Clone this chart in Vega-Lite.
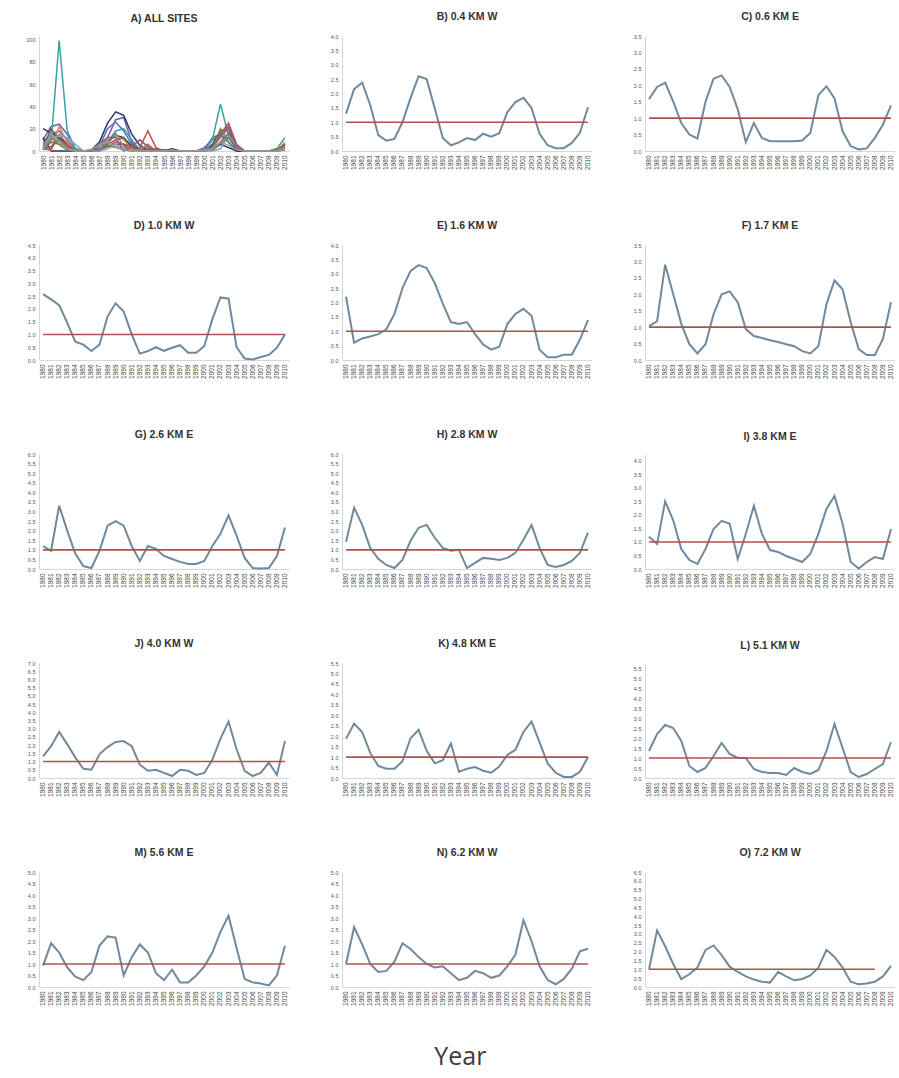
{
"$schema": "https://vega.github.io/schema/vega-lite/v6.json",
"background": "white",
"padding": {"left": 25, "top": 11, "right": 0, "bottom": 2},
"title": {"text": "Year", "orient": "bottom", "anchor": "middle", "fontSize": 25, "font": "Open Sans", "fontWeight": "normal", "color": "#3c3c3c", "offset": 40},
"datasets": {
"d": [
{"s":"B","t":1980,"v":1.3,"n":10},{"s":"B","t":1981,"v":2.15,"n":22},{"s":"B","t":1982,"v":2.38,"n":24},{"s":"B","t":1983,"v":1.6,"n":15},{"s":"B","t":1984,"v":0.55,"n":2},{"s":"B","t":1985,"v":0.36,"n":0},{"s":"B","t":1986,"v":0.42,"n":0},{"s":"B","t":1987,"v":1.0,"n":1},{"s":"B","t":1988,"v":1.85,"n":12},{"s":"B","t":1989,"v":2.6,"n":28},{"s":"B","t":1990,"v":2.5,"n":30},{"s":"B","t":1991,"v":1.49,"n":8},{"s":"B","t":1992,"v":0.45,"n":0},{"s":"B","t":1993,"v":0.2,"n":0},{"s":"B","t":1994,"v":0.3,"n":0},{"s":"B","t":1995,"v":0.45,"n":0},{"s":"B","t":1996,"v":0.38,"n":0},{"s":"B","t":1997,"v":0.6,"n":0},{"s":"B","t":1998,"v":0.5,"n":0},{"s":"B","t":1999,"v":0.62,"n":0},{"s":"B","t":2000,"v":1.35,"n":3},{"s":"B","t":2001,"v":1.7,"n":10},{"s":"B","t":2002,"v":1.85,"n":14},{"s":"B","t":2003,"v":1.5,"n":8},{"s":"B","t":2004,"v":0.6,"n":0},{"s":"B","t":2005,"v":0.2,"n":0},{"s":"B","t":2006,"v":0.1,"n":0},{"s":"B","t":2007,"v":0.1,"n":0},{"s":"B","t":2008,"v":0.28,"n":0},{"s":"B","t":2009,"v":0.63,"n":1},{"s":"B","t":2010,"v":1.52,"n":6},
{"s":"C","t":1980,"v":1.58,"n":8},{"s":"C","t":1981,"v":1.95,"n":15},{"s":"C","t":1982,"v":2.08,"n":18},{"s":"C","t":1983,"v":1.5,"n":10},{"s":"C","t":1984,"v":0.85,"n":1},{"s":"C","t":1985,"v":0.5,"n":0},{"s":"C","t":1986,"v":0.38,"n":0},{"s":"C","t":1987,"v":1.5,"n":4},{"s":"C","t":1988,"v":2.2,"n":20},{"s":"C","t":1989,"v":2.3,"n":26},{"s":"C","t":1990,"v":1.95,"n":18},{"s":"C","t":1991,"v":1.27,"n":6},{"s":"C","t":1992,"v":0.27,"n":0},{"s":"C","t":1993,"v":0.85,"n":3},{"s":"C","t":1994,"v":0.4,"n":0},{"s":"C","t":1995,"v":0.3,"n":0},{"s":"C","t":1996,"v":0.3,"n":0},{"s":"C","t":1997,"v":0.3,"n":0},{"s":"C","t":1998,"v":0.3,"n":0},{"s":"C","t":1999,"v":0.32,"n":0},{"s":"C","t":2000,"v":0.55,"n":1},{"s":"C","t":2001,"v":1.7,"n":12},{"s":"C","t":2002,"v":1.97,"n":15},{"s":"C","t":2003,"v":1.6,"n":8},{"s":"C","t":2004,"v":0.6,"n":0},{"s":"C","t":2005,"v":0.15,"n":0},{"s":"C","t":2006,"v":0.05,"n":0},{"s":"C","t":2007,"v":0.08,"n":0},{"s":"C","t":2008,"v":0.4,"n":0},{"s":"C","t":2009,"v":0.8,"n":1},{"s":"C","t":2010,"v":1.39,"n":4},
{"s":"D","t":1980,"v":2.58,"n":20},{"s":"D","t":1981,"v":2.37,"n":16},{"s":"D","t":1982,"v":2.15,"n":12},{"s":"D","t":1983,"v":1.45,"n":6},{"s":"D","t":1984,"v":0.72,"n":0},{"s":"D","t":1985,"v":0.6,"n":0},{"s":"D","t":1986,"v":0.35,"n":0},{"s":"D","t":1987,"v":0.6,"n":0},{"s":"D","t":1988,"v":1.7,"n":8},{"s":"D","t":1989,"v":2.22,"n":14},{"s":"D","t":1990,"v":1.9,"n":12},{"s":"D","t":1991,"v":1.0,"n":3},{"s":"D","t":1992,"v":0.25,"n":0},{"s":"D","t":1993,"v":0.35,"n":0},{"s":"D","t":1994,"v":0.5,"n":0},{"s":"D","t":1995,"v":0.36,"n":0},{"s":"D","t":1996,"v":0.48,"n":2},{"s":"D","t":1997,"v":0.58,"n":0},{"s":"D","t":1998,"v":0.28,"n":0},{"s":"D","t":1999,"v":0.28,"n":0},{"s":"D","t":2000,"v":0.55,"n":0},{"s":"D","t":2001,"v":1.6,"n":6},{"s":"D","t":2002,"v":2.45,"n":18},{"s":"D","t":2003,"v":2.4,"n":20},{"s":"D","t":2004,"v":0.5,"n":0},{"s":"D","t":2005,"v":0.06,"n":0},{"s":"D","t":2006,"v":0.02,"n":0},{"s":"D","t":2007,"v":0.12,"n":0},{"s":"D","t":2008,"v":0.2,"n":0},{"s":"D","t":2009,"v":0.48,"n":0},{"s":"D","t":2010,"v":1.0,"n":2},
{"s":"E","t":1980,"v":2.2,"n":12},{"s":"E","t":1981,"v":0.6,"n":0},{"s":"E","t":1982,"v":0.75,"n":0},{"s":"E","t":1983,"v":0.82,"n":0},{"s":"E","t":1984,"v":0.9,"n":0},{"s":"E","t":1985,"v":1.07,"n":0},{"s":"E","t":1986,"v":1.6,"n":1},{"s":"E","t":1987,"v":2.5,"n":8},{"s":"E","t":1988,"v":3.1,"n":25},{"s":"E","t":1989,"v":3.3,"n":35},{"s":"E","t":1990,"v":3.2,"n":32},{"s":"E","t":1991,"v":2.68,"n":15},{"s":"E","t":1992,"v":1.96,"n":5},{"s":"E","t":1993,"v":1.32,"n":1},{"s":"E","t":1994,"v":1.25,"n":1},{"s":"E","t":1995,"v":1.32,"n":1},{"s":"E","t":1996,"v":0.9,"n":0},{"s":"E","t":1997,"v":0.54,"n":0},{"s":"E","t":1998,"v":0.36,"n":0},{"s":"E","t":1999,"v":0.46,"n":0},{"s":"E","t":2000,"v":1.25,"n":1},{"s":"E","t":2001,"v":1.6,"n":4},{"s":"E","t":2002,"v":1.78,"n":6},{"s":"E","t":2003,"v":1.54,"n":3},{"s":"E","t":2004,"v":0.36,"n":0},{"s":"E","t":2005,"v":0.1,"n":0},{"s":"E","t":2006,"v":0.1,"n":0},{"s":"E","t":2007,"v":0.18,"n":0},{"s":"E","t":2008,"v":0.18,"n":0},{"s":"E","t":2009,"v":0.71,"n":0},{"s":"E","t":2010,"v":1.39,"n":3},
{"s":"F","t":1980,"v":1.03,"n":4},{"s":"F","t":1981,"v":1.18,"n":8},{"s":"F","t":1982,"v":2.9,"n":99},{"s":"F","t":1983,"v":2.0,"n":18},{"s":"F","t":1984,"v":1.1,"n":2},{"s":"F","t":1985,"v":0.48,"n":0},{"s":"F","t":1986,"v":0.2,"n":0},{"s":"F","t":1987,"v":0.48,"n":1},{"s":"F","t":1988,"v":1.39,"n":8},{"s":"F","t":1989,"v":2.0,"n":18},{"s":"F","t":1990,"v":2.09,"n":20},{"s":"F","t":1991,"v":1.76,"n":10},{"s":"F","t":1992,"v":0.94,"n":1},{"s":"F","t":1993,"v":0.73,"n":0},{"s":"F","t":1994,"v":0.67,"n":0},{"s":"F","t":1995,"v":0.6,"n":0},{"s":"F","t":1996,"v":0.55,"n":0},{"s":"F","t":1997,"v":0.48,"n":0},{"s":"F","t":1998,"v":0.42,"n":0},{"s":"F","t":1999,"v":0.27,"n":0},{"s":"F","t":2000,"v":0.2,"n":0},{"s":"F","t":2001,"v":0.42,"n":10},{"s":"F","t":2002,"v":1.7,"n":42},{"s":"F","t":2003,"v":2.42,"n":14},{"s":"F","t":2004,"v":2.15,"n":1},{"s":"F","t":2005,"v":1.15,"n":0},{"s":"F","t":2006,"v":0.33,"n":0},{"s":"F","t":2007,"v":0.15,"n":0},{"s":"F","t":2008,"v":0.15,"n":0},{"s":"F","t":2009,"v":0.64,"n":2},{"s":"F","t":2010,"v":1.76,"n":12},
{"s":"G","t":1980,"v":1.2,"n":2},{"s":"G","t":1981,"v":0.95,"n":1},{"s":"G","t":1982,"v":3.3,"n":22},{"s":"G","t":1983,"v":2.0,"n":8},{"s":"G","t":1984,"v":0.8,"n":0},{"s":"G","t":1985,"v":0.15,"n":0},{"s":"G","t":1986,"v":0.05,"n":0},{"s":"G","t":1987,"v":0.95,"n":1},{"s":"G","t":1988,"v":2.26,"n":10},{"s":"G","t":1989,"v":2.5,"n":14},{"s":"G","t":1990,"v":2.26,"n":10},{"s":"G","t":1991,"v":1.2,"n":2},{"s":"G","t":1992,"v":0.42,"n":0},{"s":"G","t":1993,"v":1.2,"n":2},{"s":"G","t":1994,"v":1.05,"n":1},{"s":"G","t":1995,"v":0.68,"n":0},{"s":"G","t":1996,"v":0.52,"n":0},{"s":"G","t":1997,"v":0.37,"n":0},{"s":"G","t":1998,"v":0.26,"n":0},{"s":"G","t":1999,"v":0.26,"n":0},{"s":"G","t":2000,"v":0.42,"n":0},{"s":"G","t":2001,"v":1.2,"n":2},{"s":"G","t":2002,"v":1.84,"n":8},{"s":"G","t":2003,"v":2.8,"n":15},{"s":"G","t":2004,"v":1.74,"n":3},{"s":"G","t":2005,"v":0.58,"n":0},{"s":"G","t":2006,"v":0.05,"n":0},{"s":"G","t":2007,"v":0.02,"n":0},{"s":"G","t":2008,"v":0.05,"n":0},{"s":"G","t":2009,"v":0.68,"n":0},{"s":"G","t":2010,"v":2.16,"n":8},
{"s":"H","t":1980,"v":1.42,"n":3},{"s":"H","t":1981,"v":3.2,"n":20},{"s":"H","t":1982,"v":2.3,"n":10},{"s":"H","t":1983,"v":1.1,"n":2},{"s":"H","t":1984,"v":0.53,"n":0},{"s":"H","t":1985,"v":0.21,"n":0},{"s":"H","t":1986,"v":0.05,"n":0},{"s":"H","t":1987,"v":0.47,"n":1},{"s":"H","t":1988,"v":1.47,"n":6},{"s":"H","t":1989,"v":2.15,"n":10},{"s":"H","t":1990,"v":2.3,"n":12},{"s":"H","t":1991,"v":1.63,"n":5},{"s":"H","t":1992,"v":1.1,"n":2},{"s":"H","t":1993,"v":0.95,"n":1},{"s":"H","t":1994,"v":1.0,"n":2},{"s":"H","t":1995,"v":0.05,"n":0},{"s":"H","t":1996,"v":0.32,"n":0},{"s":"H","t":1997,"v":0.58,"n":0},{"s":"H","t":1998,"v":0.53,"n":0},{"s":"H","t":1999,"v":0.47,"n":0},{"s":"H","t":2000,"v":0.58,"n":0},{"s":"H","t":2001,"v":0.84,"n":1},{"s":"H","t":2002,"v":1.53,"n":6},{"s":"H","t":2003,"v":2.3,"n":12},{"s":"H","t":2004,"v":1.1,"n":2},{"s":"H","t":2005,"v":0.21,"n":0},{"s":"H","t":2006,"v":0.1,"n":0},{"s":"H","t":2007,"v":0.21,"n":0},{"s":"H","t":2008,"v":0.42,"n":0},{"s":"H","t":2009,"v":0.84,"n":1},{"s":"H","t":2010,"v":1.9,"n":5},
{"s":"I","t":1980,"v":1.19,"n":2},{"s":"I","t":1981,"v":0.93,"n":1},{"s":"I","t":1982,"v":2.5,"n":15},{"s":"I","t":1983,"v":1.8,"n":6},{"s":"I","t":1984,"v":0.74,"n":0},{"s":"I","t":1985,"v":0.33,"n":0},{"s":"I","t":1986,"v":0.19,"n":0},{"s":"I","t":1987,"v":0.74,"n":1},{"s":"I","t":1988,"v":1.48,"n":4},{"s":"I","t":1989,"v":1.78,"n":8},{"s":"I","t":1990,"v":1.67,"n":6},{"s":"I","t":1991,"v":0.37,"n":0},{"s":"I","t":1992,"v":1.3,"n":3},{"s":"I","t":1993,"v":2.33,"n":18},{"s":"I","t":1994,"v":1.3,"n":3},{"s":"I","t":1995,"v":0.7,"n":0},{"s":"I","t":1996,"v":0.63,"n":0},{"s":"I","t":1997,"v":0.48,"n":0},{"s":"I","t":1998,"v":0.37,"n":0},{"s":"I","t":1999,"v":0.26,"n":0},{"s":"I","t":2000,"v":0.56,"n":0},{"s":"I","t":2001,"v":1.3,"n":3},{"s":"I","t":2002,"v":2.22,"n":15},{"s":"I","t":2003,"v":2.7,"n":25},{"s":"I","t":2004,"v":1.67,"n":6},{"s":"I","t":2005,"v":0.26,"n":0},{"s":"I","t":2006,"v":0.02,"n":0},{"s":"I","t":2007,"v":0.26,"n":0},{"s":"I","t":2008,"v":0.44,"n":0},{"s":"I","t":2009,"v":0.37,"n":0},{"s":"I","t":2010,"v":1.48,"n":3},
{"s":"J","t":1980,"v":1.31,"n":2},{"s":"J","t":1981,"v":1.94,"n":4},{"s":"J","t":1982,"v":2.8,"n":10},{"s":"J","t":1983,"v":2.06,"n":4},{"s":"J","t":1984,"v":1.25,"n":0},{"s":"J","t":1985,"v":0.56,"n":0},{"s":"J","t":1986,"v":0.5,"n":0},{"s":"J","t":1987,"v":1.44,"n":2},{"s":"J","t":1988,"v":1.88,"n":4},{"s":"J","t":1989,"v":2.19,"n":6},{"s":"J","t":1990,"v":2.25,"n":6},{"s":"J","t":1991,"v":1.94,"n":4},{"s":"J","t":1992,"v":0.81,"n":0},{"s":"J","t":1993,"v":0.44,"n":0},{"s":"J","t":1994,"v":0.5,"n":0},{"s":"J","t":1995,"v":0.31,"n":0},{"s":"J","t":1996,"v":0.12,"n":0},{"s":"J","t":1997,"v":0.5,"n":0},{"s":"J","t":1998,"v":0.44,"n":0},{"s":"J","t":1999,"v":0.19,"n":0},{"s":"J","t":2000,"v":0.31,"n":0},{"s":"J","t":2001,"v":1.12,"n":2},{"s":"J","t":2002,"v":2.38,"n":8},{"s":"J","t":2003,"v":3.44,"n":16},{"s":"J","t":2004,"v":1.75,"n":4},{"s":"J","t":2005,"v":0.44,"n":0},{"s":"J","t":2006,"v":0.12,"n":0},{"s":"J","t":2007,"v":0.31,"n":0},{"s":"J","t":2008,"v":0.94,"n":0},{"s":"J","t":2009,"v":0.19,"n":0},{"s":"J","t":2010,"v":2.25,"n":6},
{"s":"K","t":1980,"v":1.87,"n":6},{"s":"K","t":1981,"v":2.6,"n":14},{"s":"K","t":1982,"v":2.2,"n":10},{"s":"K","t":1983,"v":1.2,"n":3},{"s":"K","t":1984,"v":0.58,"n":0},{"s":"K","t":1985,"v":0.44,"n":0},{"s":"K","t":1986,"v":0.44,"n":0},{"s":"K","t":1987,"v":0.8,"n":0},{"s":"K","t":1988,"v":1.9,"n":8},{"s":"K","t":1989,"v":2.3,"n":16},{"s":"K","t":1990,"v":1.3,"n":4},{"s":"K","t":1991,"v":0.7,"n":1},{"s":"K","t":1992,"v":0.85,"n":1},{"s":"K","t":1993,"v":1.65,"n":6},{"s":"K","t":1994,"v":0.3,"n":0},{"s":"K","t":1995,"v":0.44,"n":0},{"s":"K","t":1996,"v":0.52,"n":0},{"s":"K","t":1997,"v":0.35,"n":0},{"s":"K","t":1998,"v":0.25,"n":0},{"s":"K","t":1999,"v":0.55,"n":0},{"s":"K","t":2000,"v":1.1,"n":1},{"s":"K","t":2001,"v":1.35,"n":3},{"s":"K","t":2002,"v":2.2,"n":12},{"s":"K","t":2003,"v":2.7,"n":20},{"s":"K","t":2004,"v":1.7,"n":5},{"s":"K","t":2005,"v":0.7,"n":0},{"s":"K","t":2006,"v":0.25,"n":0},{"s":"K","t":2007,"v":0.05,"n":0},{"s":"K","t":2008,"v":0.05,"n":0},{"s":"K","t":2009,"v":0.3,"n":0},{"s":"K","t":2010,"v":1.0,"n":1},
{"s":"L","t":1980,"v":1.35,"n":3},{"s":"L","t":1981,"v":2.2,"n":10},{"s":"L","t":1982,"v":2.65,"n":14},{"s":"L","t":1983,"v":2.5,"n":12},{"s":"L","t":1984,"v":1.85,"n":6},{"s":"L","t":1985,"v":0.6,"n":0},{"s":"L","t":1986,"v":0.3,"n":0},{"s":"L","t":1987,"v":0.5,"n":0},{"s":"L","t":1988,"v":1.1,"n":2},{"s":"L","t":1989,"v":1.75,"n":6},{"s":"L","t":1990,"v":1.2,"n":2},{"s":"L","t":1991,"v":1.0,"n":1},{"s":"L","t":1992,"v":1.0,"n":1},{"s":"L","t":1993,"v":0.45,"n":0},{"s":"L","t":1994,"v":0.3,"n":0},{"s":"L","t":1995,"v":0.25,"n":0},{"s":"L","t":1996,"v":0.25,"n":0},{"s":"L","t":1997,"v":0.15,"n":0},{"s":"L","t":1998,"v":0.5,"n":0},{"s":"L","t":1999,"v":0.3,"n":0},{"s":"L","t":2000,"v":0.2,"n":0},{"s":"L","t":2001,"v":0.4,"n":0},{"s":"L","t":2002,"v":1.35,"n":2},{"s":"L","t":2003,"v":2.7,"n":14},{"s":"L","t":2004,"v":1.5,"n":4},{"s":"L","t":2005,"v":0.3,"n":0},{"s":"L","t":2006,"v":0.05,"n":0},{"s":"L","t":2007,"v":0.2,"n":0},{"s":"L","t":2008,"v":0.45,"n":0},{"s":"L","t":2009,"v":0.7,"n":0},{"s":"L","t":2010,"v":1.8,"n":5},
{"s":"M","t":1980,"v":0.93,"n":1},{"s":"M","t":1981,"v":1.9,"n":8},{"s":"M","t":1982,"v":1.5,"n":6},{"s":"M","t":1983,"v":0.85,"n":1},{"s":"M","t":1984,"v":0.45,"n":0},{"s":"M","t":1985,"v":0.3,"n":0},{"s":"M","t":1986,"v":0.65,"n":0},{"s":"M","t":1987,"v":1.8,"n":6},{"s":"M","t":1988,"v":2.2,"n":12},{"s":"M","t":1989,"v":2.15,"n":12},{"s":"M","t":1990,"v":0.5,"n":0},{"s":"M","t":1991,"v":1.3,"n":4},{"s":"M","t":1992,"v":1.85,"n":10},{"s":"M","t":1993,"v":1.5,"n":4},{"s":"M","t":1994,"v":0.6,"n":0},{"s":"M","t":1995,"v":0.3,"n":0},{"s":"M","t":1996,"v":0.75,"n":0},{"s":"M","t":1997,"v":0.2,"n":0},{"s":"M","t":1998,"v":0.2,"n":0},{"s":"M","t":1999,"v":0.5,"n":0},{"s":"M","t":2000,"v":0.9,"n":1},{"s":"M","t":2001,"v":1.5,"n":4},{"s":"M","t":2002,"v":2.4,"n":14},{"s":"M","t":2003,"v":3.1,"n":22},{"s":"M","t":2004,"v":1.7,"n":5},{"s":"M","t":2005,"v":0.35,"n":0},{"s":"M","t":2006,"v":0.2,"n":0},{"s":"M","t":2007,"v":0.15,"n":0},{"s":"M","t":2008,"v":0.07,"n":0},{"s":"M","t":2009,"v":0.5,"n":1},{"s":"M","t":2010,"v":1.79,"n":6},
{"s":"N","t":1980,"v":1.0,"n":1},{"s":"N","t":1981,"v":2.6,"n":12},{"s":"N","t":1982,"v":1.85,"n":6},{"s":"N","t":1983,"v":1.0,"n":1},{"s":"N","t":1984,"v":0.65,"n":0},{"s":"N","t":1985,"v":0.7,"n":0},{"s":"N","t":1986,"v":1.1,"n":1},{"s":"N","t":1987,"v":1.9,"n":6},{"s":"N","t":1988,"v":1.65,"n":5},{"s":"N","t":1989,"v":1.3,"n":3},{"s":"N","t":1990,"v":1.0,"n":1},{"s":"N","t":1991,"v":0.85,"n":0},{"s":"N","t":1992,"v":0.9,"n":1},{"s":"N","t":1993,"v":0.6,"n":0},{"s":"N","t":1994,"v":0.3,"n":0},{"s":"N","t":1995,"v":0.4,"n":0},{"s":"N","t":1996,"v":0.7,"n":0},{"s":"N","t":1997,"v":0.6,"n":0},{"s":"N","t":1998,"v":0.4,"n":0},{"s":"N","t":1999,"v":0.5,"n":0},{"s":"N","t":2000,"v":0.9,"n":1},{"s":"N","t":2001,"v":1.4,"n":2},{"s":"N","t":2002,"v":2.9,"n":20},{"s":"N","t":2003,"v":2.0,"n":8},{"s":"N","t":2004,"v":0.9,"n":1},{"s":"N","t":2005,"v":0.3,"n":0},{"s":"N","t":2006,"v":0.12,"n":0},{"s":"N","t":2007,"v":0.35,"n":0},{"s":"N","t":2008,"v":0.8,"n":0},{"s":"N","t":2009,"v":1.55,"n":2},{"s":"N","t":2010,"v":1.66,"n":3},
{"s":"O","t":1980,"v":1.0,"n":1},{"s":"O","t":1981,"v":3.2,"n":16},{"s":"O","t":1982,"v":2.3,"n":8},{"s":"O","t":1983,"v":1.3,"n":2},{"s":"O","t":1984,"v":0.45,"n":0},{"s":"O","t":1985,"v":0.72,"n":0},{"s":"O","t":1986,"v":1.1,"n":1},{"s":"O","t":1987,"v":2.1,"n":6},{"s":"O","t":1988,"v":2.35,"n":8},{"s":"O","t":1989,"v":1.8,"n":4},{"s":"O","t":1990,"v":1.15,"n":1},{"s":"O","t":1991,"v":0.85,"n":0},{"s":"O","t":1992,"v":0.6,"n":0},{"s":"O","t":1993,"v":0.42,"n":0},{"s":"O","t":1994,"v":0.3,"n":0},{"s":"O","t":1995,"v":0.25,"n":0},{"s":"O","t":1996,"v":0.85,"n":1},{"s":"O","t":1997,"v":0.6,"n":0},{"s":"O","t":1998,"v":0.38,"n":0},{"s":"O","t":1999,"v":0.45,"n":0},{"s":"O","t":2000,"v":0.65,"n":1},{"s":"O","t":2001,"v":1.09,"n":2},{"s":"O","t":2002,"v":2.1,"n":8},{"s":"O","t":2003,"v":1.7,"n":5},{"s":"O","t":2004,"v":1.1,"n":1},{"s":"O","t":2005,"v":0.3,"n":0},{"s":"O","t":2006,"v":0.15,"n":0},{"s":"O","t":2007,"v":0.2,"n":0},{"s":"O","t":2008,"v":0.3,"n":0},{"s":"O","t":2009,"v":0.6,"n":0},{"s":"O","t":2010,"v":1.19,"n":2}
],
"m": [
{"s":"B","a":1980,"b":2010,"m":1},{"s":"C","a":1980,"b":2010,"m":1},{"s":"D","a":1980,"b":2010,"m":1},{"s":"E","a":1980,"b":2010,"m":1},{"s":"F","a":1980,"b":2010,"m":1},{"s":"G","a":1980,"b":2010,"m":1},{"s":"H","a":1980,"b":2010,"m":1},{"s":"I","a":1980,"b":2010,"m":1},{"s":"J","a":1980,"b":2010,"m":1},{"s":"K","a":1980,"b":2010,"m":1},{"s":"L","a":1980,"b":2010,"m":1},{"s":"M","a":1980,"b":2010,"m":1},{"s":"N","a":1980,"b":2010,"m":1},{"s":"O","a":1980,"b":2008,"m":1}
]
},
"columns": 3,
"spacing": {"row": 50, "column": 41},
"concat": [
{"title": "A) ALL SITES", "width": 250, "height": 115, "data": {"name": "d"},
 "mark": {"type": "line", "strokeWidth": 1.5},
 "encoding": {
  "x": {"field": "t", "type": "ordinal", "title": null},
  "y": {"field": "n", "type": "quantitative", "title": null, "scale": {"domain": [0, 103], "nice": false}, "axis": {"values": [0, 20, 40, 60, 80, 100]}},
  "color": {"field": "s", "type": "nominal", "legend": null, "scale": {"domain": ["B","C","D","E","F","G","H","I","J","K","L","M","N","O"], "range": ["#7b5ea7","#4f73b5","#333333","#26336e","#3aa0a8","#e0894a","#606060","#c0504d","#8c5b4a","#7f7f7f","#79a3cf","#a34f7e","#6f8f3f","#9a9a9a"]}}
 }},
{"title": "B) 0.4 KM W", "width": 250, "height": 115, "layer": [
 {"data": {"name": "d"}, "transform": [{"filter": "datum.s === 'B'"}], "mark": {"type": "line", "color": "#71899c", "strokeWidth": 2},
  "encoding": {"x": {"field": "t", "type": "ordinal", "title": null}, "y": {"field": "v", "type": "quantitative", "title": null, "scale": {"domain": [0, 4], "nice": false}, "axis": {"values": [0,0.5,1,1.5,2,2.5,3,3.5,4], "labelOverlap": false}}}},
 {"data": {"name": "m"}, "transform": [{"filter": "datum.s === 'B'"}], "mark": {"type": "rule", "color": "#b0504d", "strokeWidth": 1.6},
  "encoding": {"x": {"field": "a", "type": "ordinal", "title": null}, "x2": {"field": "b"}, "y": {"field": "m", "type": "quantitative", "title": null, "scale": {"domain": [0, 4], "nice": false}, "axis": {"values": [0,0.5,1,1.5,2,2.5,3,3.5,4], "labelOverlap": false}}}}]},
{"title": "C) 0.6 KM E", "width": 250, "height": 115, "layer": [
 {"data": {"name": "d"}, "transform": [{"filter": "datum.s === 'C'"}], "mark": {"type": "line", "color": "#71899c", "strokeWidth": 2},
  "encoding": {"x": {"field": "t", "type": "ordinal", "title": null}, "y": {"field": "v", "type": "quantitative", "title": null, "scale": {"domain": [0, 3.5], "nice": false}, "axis": {"values": [0,0.5,1,1.5,2,2.5,3,3.5], "labelOverlap": false}}}},
 {"data": {"name": "m"}, "transform": [{"filter": "datum.s === 'C'"}], "mark": {"type": "rule", "color": "#b0504d", "strokeWidth": 1.6},
  "encoding": {"x": {"field": "a", "type": "ordinal", "title": null}, "x2": {"field": "b"}, "y": {"field": "m", "type": "quantitative", "title": null, "scale": {"domain": [0, 3.5], "nice": false}, "axis": {"values": [0,0.5,1,1.5,2,2.5,3,3.5], "labelOverlap": false}}}}]},
{"title": "D) 1.0 KM W", "width": 250, "height": 115, "layer": [
 {"data": {"name": "d"}, "transform": [{"filter": "datum.s === 'D'"}], "mark": {"type": "line", "color": "#71899c", "strokeWidth": 2},
  "encoding": {"x": {"field": "t", "type": "ordinal", "title": null}, "y": {"field": "v", "type": "quantitative", "title": null, "scale": {"domain": [0, 4.5], "nice": false}, "axis": {"values": [0,0.5,1,1.5,2,2.5,3,3.5,4,4.5], "labelOverlap": false}}}},
 {"data": {"name": "m"}, "transform": [{"filter": "datum.s === 'D'"}], "mark": {"type": "rule", "color": "#b0504d", "strokeWidth": 1.6},
  "encoding": {"x": {"field": "a", "type": "ordinal", "title": null}, "x2": {"field": "b"}, "y": {"field": "m", "type": "quantitative", "title": null, "scale": {"domain": [0, 4.5], "nice": false}, "axis": {"values": [0,0.5,1,1.5,2,2.5,3,3.5,4,4.5], "labelOverlap": false}}}}]},
{"title": "E) 1.6 KM W", "width": 250, "height": 115, "layer": [
 {"data": {"name": "d"}, "transform": [{"filter": "datum.s === 'E'"}], "mark": {"type": "line", "color": "#71899c", "strokeWidth": 2},
  "encoding": {"x": {"field": "t", "type": "ordinal", "title": null}, "y": {"field": "v", "type": "quantitative", "title": null, "scale": {"domain": [0, 4], "nice": false}, "axis": {"values": [0,0.5,1,1.5,2,2.5,3,3.5,4], "labelOverlap": false}}}},
 {"data": {"name": "m"}, "transform": [{"filter": "datum.s === 'E'"}], "mark": {"type": "rule", "color": "#b0504d", "strokeWidth": 1.6},
  "encoding": {"x": {"field": "a", "type": "ordinal", "title": null}, "x2": {"field": "b"}, "y": {"field": "m", "type": "quantitative", "title": null, "scale": {"domain": [0, 4], "nice": false}, "axis": {"values": [0,0.5,1,1.5,2,2.5,3,3.5,4], "labelOverlap": false}}}}]},
{"title": "F) 1.7 KM E", "width": 250, "height": 115, "layer": [
 {"data": {"name": "d"}, "transform": [{"filter": "datum.s === 'F'"}], "mark": {"type": "line", "color": "#71899c", "strokeWidth": 2},
  "encoding": {"x": {"field": "t", "type": "ordinal", "title": null}, "y": {"field": "v", "type": "quantitative", "title": null, "scale": {"domain": [0, 3.5], "nice": false}, "axis": {"values": [0,0.5,1,1.5,2,2.5,3,3.5], "labelOverlap": false}}}},
 {"data": {"name": "m"}, "transform": [{"filter": "datum.s === 'F'"}], "mark": {"type": "rule", "color": "#b0504d", "strokeWidth": 1.6},
  "encoding": {"x": {"field": "a", "type": "ordinal", "title": null}, "x2": {"field": "b"}, "y": {"field": "m", "type": "quantitative", "title": null, "scale": {"domain": [0, 3.5], "nice": false}, "axis": {"values": [0,0.5,1,1.5,2,2.5,3,3.5], "labelOverlap": false}}}}]},
{"title": "G) 2.6 KM E", "width": 250, "height": 115, "layer": [
 {"data": {"name": "d"}, "transform": [{"filter": "datum.s === 'G'"}], "mark": {"type": "line", "color": "#71899c", "strokeWidth": 2},
  "encoding": {"x": {"field": "t", "type": "ordinal", "title": null}, "y": {"field": "v", "type": "quantitative", "title": null, "scale": {"domain": [0, 6], "nice": false}, "axis": {"values": [0,0.5,1,1.5,2,2.5,3,3.5,4,4.5,5,5.5,6], "labelOverlap": false}}}},
 {"data": {"name": "m"}, "transform": [{"filter": "datum.s === 'G'"}], "mark": {"type": "rule", "color": "#b0504d", "strokeWidth": 1.6},
  "encoding": {"x": {"field": "a", "type": "ordinal", "title": null}, "x2": {"field": "b"}, "y": {"field": "m", "type": "quantitative", "title": null, "scale": {"domain": [0, 6], "nice": false}, "axis": {"values": [0,0.5,1,1.5,2,2.5,3,3.5,4,4.5,5,5.5,6], "labelOverlap": false}}}}]},
{"title": "H) 2.8 KM W", "width": 250, "height": 115, "layer": [
 {"data": {"name": "d"}, "transform": [{"filter": "datum.s === 'H'"}], "mark": {"type": "line", "color": "#71899c", "strokeWidth": 2},
  "encoding": {"x": {"field": "t", "type": "ordinal", "title": null}, "y": {"field": "v", "type": "quantitative", "title": null, "scale": {"domain": [0, 6], "nice": false}, "axis": {"values": [0,0.5,1,1.5,2,2.5,3,3.5,4,4.5,5,5.5,6], "labelOverlap": false}}}},
 {"data": {"name": "m"}, "transform": [{"filter": "datum.s === 'H'"}], "mark": {"type": "rule", "color": "#b0504d", "strokeWidth": 1.6},
  "encoding": {"x": {"field": "a", "type": "ordinal", "title": null}, "x2": {"field": "b"}, "y": {"field": "m", "type": "quantitative", "title": null, "scale": {"domain": [0, 6], "nice": false}, "axis": {"values": [0,0.5,1,1.5,2,2.5,3,3.5,4,4.5,5,5.5,6], "labelOverlap": false}}}}]},
{"title": "I) 3.8 KM E", "width": 250, "height": 115, "layer": [
 {"data": {"name": "d"}, "transform": [{"filter": "datum.s === 'I'"}], "mark": {"type": "line", "color": "#71899c", "strokeWidth": 2},
  "encoding": {"x": {"field": "t", "type": "ordinal", "title": null}, "y": {"field": "v", "type": "quantitative", "title": null, "scale": {"domain": [0, 4.25], "nice": false}, "axis": {"values": [0,0.5,1,1.5,2,2.5,3,3.5,4], "labelOverlap": false}}}},
 {"data": {"name": "m"}, "transform": [{"filter": "datum.s === 'I'"}], "mark": {"type": "rule", "color": "#b0504d", "strokeWidth": 1.6},
  "encoding": {"x": {"field": "a", "type": "ordinal", "title": null}, "x2": {"field": "b"}, "y": {"field": "m", "type": "quantitative", "title": null, "scale": {"domain": [0, 4.25], "nice": false}, "axis": {"values": [0,0.5,1,1.5,2,2.5,3,3.5,4], "labelOverlap": false}}}}]},
{"title": "J) 4.0 KM W", "width": 250, "height": 115, "layer": [
 {"data": {"name": "d"}, "transform": [{"filter": "datum.s === 'J'"}], "mark": {"type": "line", "color": "#71899c", "strokeWidth": 2},
  "encoding": {"x": {"field": "t", "type": "ordinal", "title": null}, "y": {"field": "v", "type": "quantitative", "title": null, "scale": {"domain": [0, 7], "nice": false}, "axis": {"values": [0,0.5,1,1.5,2,2.5,3,3.5,4,4.5,5,5.5,6,6.5,7], "labelOverlap": false}}}},
 {"data": {"name": "m"}, "transform": [{"filter": "datum.s === 'J'"}], "mark": {"type": "rule", "color": "#b0504d", "strokeWidth": 1.6},
  "encoding": {"x": {"field": "a", "type": "ordinal", "title": null}, "x2": {"field": "b"}, "y": {"field": "m", "type": "quantitative", "title": null, "scale": {"domain": [0, 7], "nice": false}, "axis": {"values": [0,0.5,1,1.5,2,2.5,3,3.5,4,4.5,5,5.5,6,6.5,7], "labelOverlap": false}}}}]},
{"title": "K) 4.8 KM E", "width": 250, "height": 115, "layer": [
 {"data": {"name": "d"}, "transform": [{"filter": "datum.s === 'K'"}], "mark": {"type": "line", "color": "#71899c", "strokeWidth": 2},
  "encoding": {"x": {"field": "t", "type": "ordinal", "title": null}, "y": {"field": "v", "type": "quantitative", "title": null, "scale": {"domain": [0, 5.5], "nice": false}, "axis": {"values": [0,0.5,1,1.5,2,2.5,3,3.5,4,4.5,5,5.5], "labelOverlap": false}}}},
 {"data": {"name": "m"}, "transform": [{"filter": "datum.s === 'K'"}], "mark": {"type": "rule", "color": "#b0504d", "strokeWidth": 1.6},
  "encoding": {"x": {"field": "a", "type": "ordinal", "title": null}, "x2": {"field": "b"}, "y": {"field": "m", "type": "quantitative", "title": null, "scale": {"domain": [0, 5.5], "nice": false}, "axis": {"values": [0,0.5,1,1.5,2,2.5,3,3.5,4,4.5,5,5.5], "labelOverlap": false}}}}]},
{"title": "L) 5.1 KM W", "width": 250, "height": 115, "layer": [
 {"data": {"name": "d"}, "transform": [{"filter": "datum.s === 'L'"}], "mark": {"type": "line", "color": "#71899c", "strokeWidth": 2},
  "encoding": {"x": {"field": "t", "type": "ordinal", "title": null}, "y": {"field": "v", "type": "quantitative", "title": null, "scale": {"domain": [0, 5.75], "nice": false}, "axis": {"values": [0,0.5,1,1.5,2,2.5,3,3.5,4,4.5,5,5.5], "labelOverlap": false}}}},
 {"data": {"name": "m"}, "transform": [{"filter": "datum.s === 'L'"}], "mark": {"type": "rule", "color": "#b0504d", "strokeWidth": 1.6},
  "encoding": {"x": {"field": "a", "type": "ordinal", "title": null}, "x2": {"field": "b"}, "y": {"field": "m", "type": "quantitative", "title": null, "scale": {"domain": [0, 5.75], "nice": false}, "axis": {"values": [0,0.5,1,1.5,2,2.5,3,3.5,4,4.5,5,5.5], "labelOverlap": false}}}}]},
{"title": "M) 5.6 KM E", "width": 250, "height": 115, "layer": [
 {"data": {"name": "d"}, "transform": [{"filter": "datum.s === 'M'"}], "mark": {"type": "line", "color": "#71899c", "strokeWidth": 2},
  "encoding": {"x": {"field": "t", "type": "ordinal", "title": null}, "y": {"field": "v", "type": "quantitative", "title": null, "scale": {"domain": [0, 5], "nice": false}, "axis": {"values": [0,0.5,1,1.5,2,2.5,3,3.5,4,4.5,5], "labelOverlap": false}}}},
 {"data": {"name": "m"}, "transform": [{"filter": "datum.s === 'M'"}], "mark": {"type": "rule", "color": "#b0504d", "strokeWidth": 1.6},
  "encoding": {"x": {"field": "a", "type": "ordinal", "title": null}, "x2": {"field": "b"}, "y": {"field": "m", "type": "quantitative", "title": null, "scale": {"domain": [0, 5], "nice": false}, "axis": {"values": [0,0.5,1,1.5,2,2.5,3,3.5,4,4.5,5], "labelOverlap": false}}}}]},
{"title": "N) 6.2 KM W", "width": 250, "height": 115, "layer": [
 {"data": {"name": "d"}, "transform": [{"filter": "datum.s === 'N'"}], "mark": {"type": "line", "color": "#71899c", "strokeWidth": 2},
  "encoding": {"x": {"field": "t", "type": "ordinal", "title": null}, "y": {"field": "v", "type": "quantitative", "title": null, "scale": {"domain": [0, 5], "nice": false}, "axis": {"values": [0,0.5,1,1.5,2,2.5,3,3.5,4,4.5,5], "labelOverlap": false}}}},
 {"data": {"name": "m"}, "transform": [{"filter": "datum.s === 'N'"}], "mark": {"type": "rule", "color": "#b0504d", "strokeWidth": 1.6},
  "encoding": {"x": {"field": "a", "type": "ordinal", "title": null}, "x2": {"field": "b"}, "y": {"field": "m", "type": "quantitative", "title": null, "scale": {"domain": [0, 5], "nice": false}, "axis": {"values": [0,0.5,1,1.5,2,2.5,3,3.5,4,4.5,5], "labelOverlap": false}}}}]},
{"title": "O) 7.2 KM W", "width": 250, "height": 115, "layer": [
 {"data": {"name": "d"}, "transform": [{"filter": "datum.s === 'O'"}], "mark": {"type": "line", "color": "#71899c", "strokeWidth": 2},
  "encoding": {"x": {"field": "t", "type": "ordinal", "title": null}, "y": {"field": "v", "type": "quantitative", "title": null, "scale": {"domain": [0, 6.5], "nice": false}, "axis": {"values": [0,0.5,1,1.5,2,2.5,3,3.5,4,4.5,5,5.5,6,6.5], "labelOverlap": false}}}},
 {"data": {"name": "m"}, "transform": [{"filter": "datum.s === 'O'"}], "mark": {"type": "rule", "color": "#b0504d", "strokeWidth": 1.6},
  "encoding": {"x": {"field": "a", "type": "ordinal", "title": null}, "x2": {"field": "b"}, "y": {"field": "m", "type": "quantitative", "title": null, "scale": {"domain": [0, 6.5], "nice": false}, "axis": {"values": [0,0.5,1,1.5,2,2.5,3,3.5,4,4.5,5,5.5,6,6.5], "labelOverlap": false}}}}]}
],
"config": {
 "view": {"stroke": null},
 "font": "Liberation Sans",
 "title": {"fontSize": 10.5, "fontWeight": "bold", "color": "#333333", "offset": 12},
 "axisX": {"labelAngle": -90, "labelFontSize": 6.5, "labelColor": "#444444", "ticks": false, "domainColor": "#d6d6d6", "labelOverlap": false, "labelPadding": 4},
 "axisY": {"labelFontSize": 5.5, "labelColor": "#555555", "ticks": false, "domainColor": "#d6d6d6", "grid": false, "labelPadding": 4, "labelOverlap": false}
}
}
